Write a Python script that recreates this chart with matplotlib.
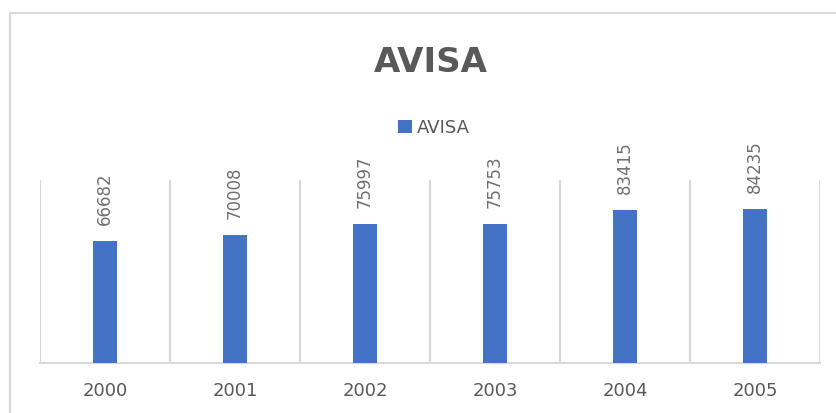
import numpy as np
import matplotlib.pyplot as plt
from matplotlib.patches import Rectangle

years = ['2000', '2001', '2002', '2003', '2004', '2005']
avisa = [66682, 70008, 75997, 75753, 83415, 84235]

plt.rcParams['font.family'] = ['DejaVu Sans']

fig = plt.figure(figsize=(8.36, 4.13), dpi=100)
ax = fig.add_axes([40 / 836, 1 - 363 / 413, 780 / 836, 183 / 413])

x = np.arange(len(years))
bars = ax.bar(x, avisa, width=0.18, color='#4472c4', label='AVISA', zorder=3)

# value labels above the bars, rotated
for xi, v in zip(x, avisa):
    ax.annotate(str(v), (xi, v), xytext=(0, 11.5), textcoords='offset points',
                rotation=90, ha='center', va='bottom', fontsize=12, color='#6f6f6f')

ax.set_xlim(-0.5, len(years) - 0.5)
ax.set_ylim(0, 100000)
ax.set_xticks(x)
ax.set_xticklabels(years, fontsize=13, color='#595959')
ax.tick_params(axis='x', length=0, pad=14)
ax.set_yticks([])
ax.set_xticks(np.arange(-0.5, len(years), 1), minor=True)
ax.tick_params(axis='x', which='minor', length=0)
ax.grid(which='minor', axis='x', color='#d9d9d9', linewidth=1.5)
for s in ['top', 'left', 'right']:
    ax.spines[s].set_visible(False)
ax.spines['bottom'].set_color('#d9d9d9')
ax.spines['bottom'].set_linewidth(1.5)

fig.text(431 / 836, 1 - 62 / 413, 'AVISA', ha='center', va='center',
         fontsize=24.5, fontweight='bold', color='#595959')

fig.legend(loc='center', bbox_to_anchor=(434 / 836, 1 - 128 / 413), frameon=False,
           fontsize=13, handlelength=0.75, handleheight=0.75, handletextpad=0.3,
           labelcolor='#595959')

# outer chart border (only top/left are inside the picture)
fig.patches.append(Rectangle((10 / 836, -0.1), 1.2, 1.1 - 13 / 413, transform=fig.transFigure,
                             fill=False, edgecolor='#d9d9d9', linewidth=1.5))

fig.savefig('out.png', dpi=100)
